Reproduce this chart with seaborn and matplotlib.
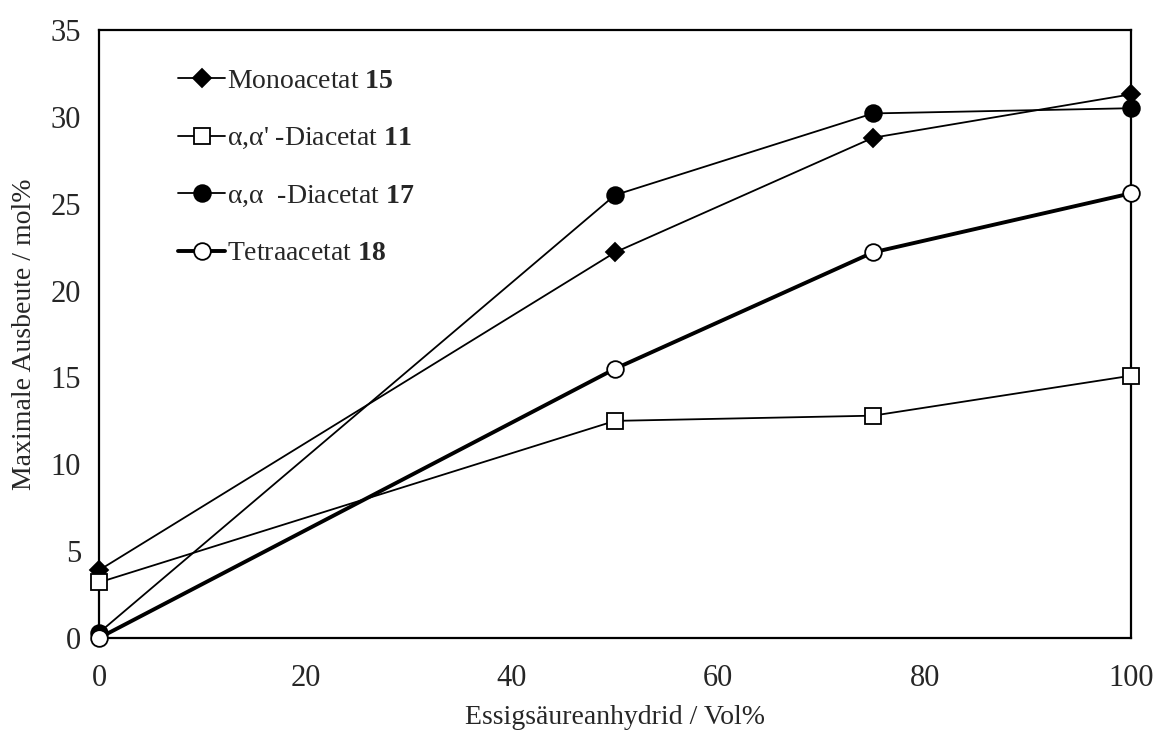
import matplotlib
matplotlib.use("Agg")
import matplotlib.pyplot as plt
import seaborn as sns
import pandas as pd

# ---- data ----
x_vol = [0, 50, 75, 100]
mono_15 = [3.9, 22.2, 28.8, 31.3]
diac_11 = [3.2, 12.5, 12.8, 15.1]
diac_17 = [0.3, 25.5, 30.2, 30.5]
tetra_18 = [0.0, 15.5, 22.2, 25.6]
labels = [r"Monoacetat $\mathbf{15}$",
          r"α,α' -Diacetat $\mathbf{11}$",
          r"α,α  -Diacetat $\mathbf{17}$",
          r"Tetraacetat $\mathbf{18}$"]
x_ticks = [0, 20, 40, 60, 80, 100]
y_ticks = [0, 5, 10, 15, 20, 25, 30, 35]
x_label = "Essigsäureanhydrid / Vol%"
y_label = "Maximale Ausbeute / mol%"

sns.set_theme(style="white")
plt.rcParams['font.family'] = ['Liberation Serif', 'DejaVu Serif']
plt.rcParams['mathtext.fontset'] = 'custom'
plt.rcParams['mathtext.rm'] = 'Liberation Serif'
plt.rcParams['mathtext.bf'] = 'Liberation Serif:bold'

fig = plt.figure(figsize=(11.55, 7.33), dpi=100)
ax = fig.add_axes([0.0857, 0.1296, 0.8935, 0.8294])

series = [mono_15, diac_11, diac_17, tetra_18]
styles = [
    dict(marker='D', markersize=9, markerfacecolor='black', linewidth=1.3),
    dict(marker='s', markersize=11, markerfacecolor='white', linewidth=1.3),
    dict(marker='o', markersize=12, markerfacecolor='black', linewidth=1.3),
    dict(marker='o', markersize=12, markerfacecolor='white', linewidth=2.8),
]
for vals, lab, st in zip(series, labels, styles):
    df = pd.DataFrame({"x": x_vol, "y": vals})
    sns.lineplot(data=df, x="x", y="y", ax=ax, color='black', label=lab,
                 markeredgecolor='black', markeredgewidth=1.3, clip_on=False,
                 zorder=3, **st)

ax.set_xlim(0, 100)
ax.set_ylim(0, 35)
ax.set_xticks(x_ticks)
ax.set_yticks(y_ticks)
ax.set_xlabel(x_label, fontsize=20, labelpad=8)
ax.set_ylabel(y_label, fontsize=20, labelpad=10)
ax.tick_params(axis='x', direction='out', length=7, width=1, labelsize=22, pad=12, color='black')
ax.tick_params(axis='y', direction='inout', length=14, width=1, labelsize=22, pad=6, color='black')
for sp in ax.spines.values():
    sp.set_color('black')
    sp.set_linewidth(1.6)
ax.grid(False)

leg = ax.legend(loc='upper left', bbox_to_anchor=(0.066, 0.955), frameon=False,
                fontsize=20, labelspacing=1.15, handlelength=1.7, handletextpad=0.05,
                borderaxespad=0)

fig.savefig("out.png", dpi=100)
